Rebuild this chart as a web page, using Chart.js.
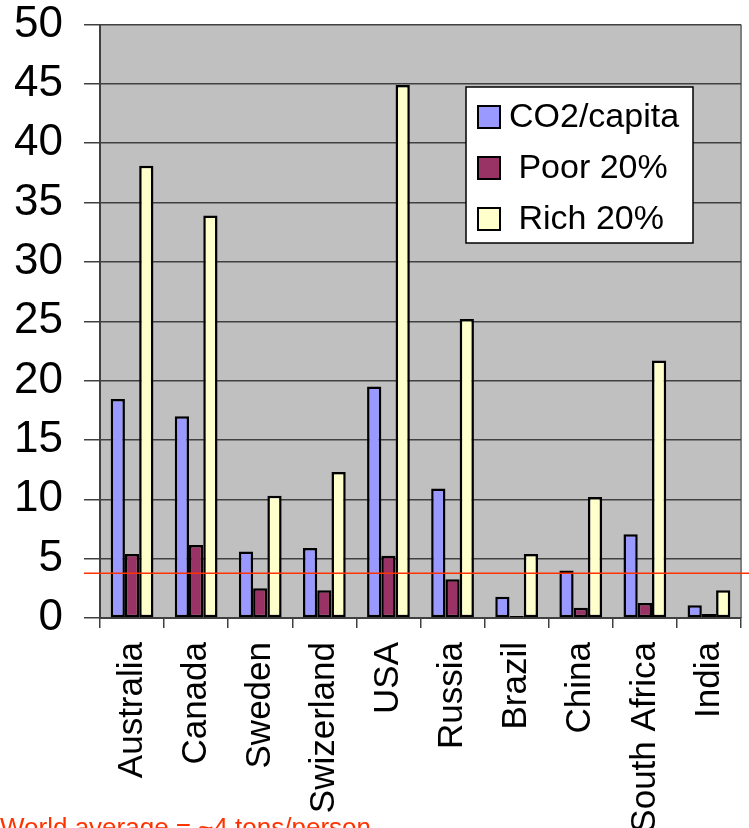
<!DOCTYPE html>
<html lang="en">
<head>
    <meta charset="UTF-8">
    <title>CO2 per capita</title>
    <style>
        body { margin: 0; background: #fff; }
        canvas { display: block; }
    </style>
</head>
<body>
    <canvas id="myChart" width="749" height="828"></canvas>

    <script src="https://cdn.jsdelivr.net/npm/chart.js"></script>
    <script>
        // tons of CO2 per person
        const countries = ['Australia', 'Canada', 'Sweden', 'Swizerland', 'USA', 'Russia', 'Brazil', 'China', 'South Africa', 'India'];
        const co2PerCapita = [18.45, 17.0, 5.6, 5.9, 19.5, 10.9, 1.8, 4.0, 7.05, 1.07];
        const poor20 = [5.4, 6.15, 2.5, 2.33, 5.25, 3.26, 0.17, 0.87, 1.26, 0.34];
        const rich20 = [38.1, 33.9, 10.3, 12.3, 44.9, 25.2, 5.4, 10.2, 21.7, 2.33];
        const seriesNames = ['CO2/capita', ' Poor 20%', ' Rich 20%'];
        const seriesColors = ['#9999ff', '#993366', '#ffffcc'];
        const worldAverage = 3.77;
        const yTicks = [0, 5, 10, 15, 20, 25, 30, 35, 40, 45, 50];
        const note = 'World average = ~4 tons/person';

        const FONT = "'Liberation Sans', Arial, sans-serif";
        const ctx = document.getElementById('myChart');

        // grey plot area with a darker right edge
        const plotBackground = {
            id: 'plotBackground',
            beforeDraw(chart) {
                const { ctx, chartArea: a } = chart;
                ctx.save();
                ctx.fillStyle = '#c0c0c0';
                ctx.fillRect(a.left, a.top, a.right - a.left, a.bottom - a.top);
                ctx.strokeStyle = '#808080';
                ctx.lineWidth = 2;
                ctx.beginPath();
                ctx.moveTo(a.right, a.top);
                ctx.lineTo(a.right, a.bottom);
                ctx.stroke();
                ctx.restore();
            }
        };

        // world average line across the plot
        const averageLine = {
            id: 'averageLine',
            afterDatasetsDraw(chart) {
                const { ctx, scales } = chart;
                const y = scales.y.getPixelForValue(worldAverage);
                ctx.save();
                ctx.strokeStyle = '#ff3300';
                ctx.lineWidth = 1.5;
                ctx.beginPath();
                ctx.moveTo(scales.y.right - 16, y);
                ctx.lineTo(chart.width, y);
                ctx.stroke();
                ctx.restore();
            }
        };

        // boxed legend inside the plot, plus the note under the axis
        const boxLegend = {
            id: 'boxLegend',
            afterDraw(chart) {
                const { ctx } = chart;
                const left = 466, top = 87, w = 227, h = 156;
                ctx.save();
                ctx.fillStyle = '#fff';
                ctx.fillRect(left, top, w, h);
                ctx.strokeStyle = '#000';
                ctx.lineWidth = 1.5;
                ctx.strokeRect(left, top, w, h);

                ctx.font = '34px ' + FONT;
                ctx.textBaseline = 'middle';
                seriesNames.forEach((name, i) => {
                    const cy = top + 30 + i * 51;
                    ctx.fillStyle = seriesColors[i];
                    ctx.fillRect(left + 12, cy - 11, 22, 22);
                    ctx.strokeStyle = '#000';
                    ctx.lineWidth = 2;
                    ctx.strokeRect(left + 12, cy - 11, 22, 22);
                    ctx.fillStyle = '#000';
                    ctx.fillText(name, left + 43, cy + 1);
                });

                ctx.fillStyle = '#ff3300';
                ctx.font = '26px ' + FONT;
                ctx.textBaseline = 'alphabetic';
                ctx.fillText(note, 0, 836);
                ctx.restore();
            }
        };

        new Chart(ctx, {
            type: 'bar',
            data: {
                labels: countries,
                datasets: [
                    { label: seriesNames[0], data: co2PerCapita, backgroundColor: seriesColors[0] },
                    { label: seriesNames[1], data: poor20, backgroundColor: seriesColors[1] },
                    { label: seriesNames[2], data: rich20, backgroundColor: seriesColors[2] }
                ].map(ds => Object.assign(ds, {
                    borderColor: '#000',
                    borderWidth: 2.5,
                    borderSkipped: false,
                    categoryPercentage: 0.667,
                    barPercentage: 1.0
                }))
            },
            options: {
                responsive: false,
                animation: false,
                layout: { padding: { top: 24.5, right: 8, bottom: 0, left: 0 } },
                plugins: {
                    legend: { display: false },
                    tooltip: { enabled: false }
                },
                scales: {
                    x: {
                        grid: {
                            offset: true,
                            drawOnChartArea: false,
                            color: '#404040',
                            lineWidth: 1.5,
                            tickLength: 10
                        },
                        border: { color: '#404040', width: 2 },
                        ticks: {
                            minRotation: 90,
                            maxRotation: 90,
                            autoSkip: false,
                            padding: 14,
                            color: '#000',
                            font: { family: FONT, size: 35 }
                        },
                        afterFit(scale) {
                            scale.height = 210;
                            scale.paddingLeft = 0;
                            scale.paddingRight = 0;
                        }
                    },
                    y: {
                        min: 0,
                        max: 50,
                        afterBuildTicks(scale) {
                            scale.ticks = yTicks.map(v => ({ value: v }));
                        },
                        grid: {
                            color: '#404040',
                            lineWidth: 1.5,
                            tickLength: 16
                        },
                        border: { color: '#404040', width: 2 },
                        ticks: {
                            padding: 21,
                            color: '#000',
                            font: { family: FONT, size: 44, lineHeight: 1.0 }
                        },
                        afterFit(scale) {
                            scale.width = 100;
                            scale.paddingTop = 0;
                            scale.paddingBottom = 0;
                        }
                    }
                }
            },
            plugins: [plotBackground, averageLine, boxLegend]
        });
    </script>
</body>
</html>
